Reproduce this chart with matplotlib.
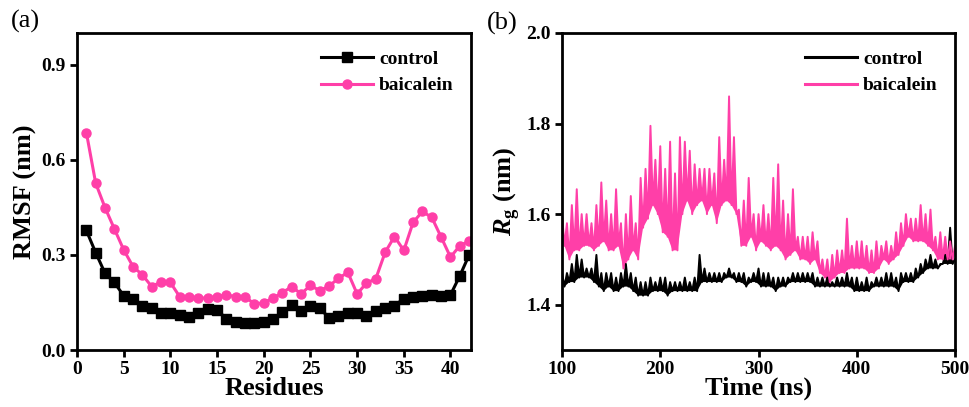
import numpy as np
import matplotlib
matplotlib.use('Agg')
import matplotlib.pyplot as plt

plt.rcParams['font.family'] = 'Liberation Serif'
plt.rcParams['font.weight'] = 'bold'
plt.rcParams['mathtext.fontset'] = 'custom'
plt.rcParams['mathtext.bfit'] = 'Liberation Serif:italic:bold'
plt.rcParams['mathtext.bf'] = 'Liberation Serif:bold'
plt.rcParams['mathtext.rm'] = 'Liberation Serif:bold'

PINK = '#FF3FA8'

# (a) RMSF per residue
residues = np.arange(1, 43)
rmsf_control = [0.377, 0.307, 0.242, 0.213, 0.171, 0.160, 0.140, 0.131, 0.116, 0.116,
                0.112, 0.103, 0.118, 0.129, 0.126, 0.099, 0.087, 0.084, 0.084, 0.089,
                0.097, 0.119, 0.142, 0.123, 0.139, 0.131, 0.102, 0.107, 0.118, 0.118,
                0.107, 0.123, 0.133, 0.140, 0.162, 0.168, 0.171, 0.173, 0.171, 0.174,
                0.234, 0.300]
rmsf_baicalein = [0.686, 0.526, 0.449, 0.382, 0.316, 0.263, 0.237, 0.200, 0.215, 0.213,
                  0.168, 0.166, 0.164, 0.164, 0.168, 0.174, 0.168, 0.168, 0.145, 0.149,
                  0.164, 0.181, 0.200, 0.177, 0.204, 0.187, 0.202, 0.226, 0.245, 0.177,
                  0.211, 0.225, 0.308, 0.358, 0.314, 0.403, 0.437, 0.418, 0.356, 0.293,
                  0.329, 0.344]

# (b) Rg over time: upper values at 100,105,...,500 ns and lower values in between
rg_ctrl_hi = [1.47, 1.47, 1.49, 1.51, 1.50, 1.48, 1.48, 1.51, 1.47, 1.47,
              1.47, 1.46, 1.47, 1.49, 1.47, 1.46, 1.45, 1.45, 1.46, 1.45,
              1.46, 1.46, 1.45, 1.45, 1.45, 1.46, 1.45, 1.46, 1.51, 1.48,
              1.47, 1.47, 1.47, 1.47, 1.48, 1.47, 1.47, 1.47, 1.46, 1.47,
              1.48, 1.47, 1.47, 1.46, 1.46, 1.46, 1.46, 1.47, 1.47, 1.47,
              1.47, 1.47, 1.46, 1.46, 1.46, 1.45, 1.46, 1.46, 1.47, 1.46,
              1.46, 1.45, 1.46, 1.45, 1.46, 1.46, 1.47, 1.47, 1.46, 1.47,
              1.47, 1.47, 1.48, 1.49, 1.50, 1.51, 1.50, 1.49, 1.51, 1.57,
              1.50]
rg_ctrl_lo = [1.44, 1.45, 1.45, 1.46, 1.46, 1.46, 1.45, 1.44, 1.43, 1.44,
              1.43, 1.43, 1.44, 1.44, 1.43, 1.42, 1.42, 1.42, 1.43, 1.43,
              1.43, 1.42, 1.43, 1.43, 1.43, 1.43, 1.43, 1.43, 1.45, 1.45,
              1.45, 1.45, 1.45, 1.46, 1.46, 1.45, 1.45, 1.44, 1.45, 1.45,
              1.44, 1.44, 1.44, 1.43, 1.44, 1.44, 1.45, 1.45, 1.45, 1.45,
              1.45, 1.44, 1.44, 1.44, 1.44, 1.44, 1.44, 1.44, 1.44, 1.43,
              1.43, 1.43, 1.43, 1.44, 1.44, 1.44, 1.44, 1.44, 1.43, 1.45,
              1.45, 1.45, 1.46, 1.47, 1.48, 1.48, 1.48, 1.49, 1.49, 1.49]
rg_baic_hi = [1.60, 1.58, 1.62, 1.655, 1.60, 1.60, 1.58, 1.62, 1.67, 1.63,
              1.60, 1.655, 1.58, 1.60, 1.64, 1.58, 1.68, 1.70, 1.795, 1.72,
              1.75, 1.70, 1.76, 1.69, 1.77, 1.76, 1.74, 1.71, 1.70, 1.70,
              1.70, 1.69, 1.77, 1.72, 1.86, 1.77, 1.61, 1.63, 1.68, 1.60,
              1.60, 1.62, 1.60, 1.68, 1.71, 1.63, 1.60, 1.655, 1.55, 1.55,
              1.55, 1.56, 1.54, 1.50, 1.50, 1.51, 1.52, 1.52, 1.59, 1.53,
              1.54, 1.54, 1.53, 1.52, 1.54, 1.53, 1.54, 1.53, 1.56, 1.58,
              1.60, 1.59, 1.59, 1.62, 1.60, 1.61, 1.55, 1.56, 1.55, 1.54,
              1.53]
rg_baic_lo = [1.53, 1.50, 1.52, 1.52, 1.53, 1.53, 1.52, 1.53, 1.54, 1.52,
              1.52, 1.53, 1.48, 1.50, 1.52, 1.50, 1.57, 1.59, 1.62, 1.60,
              1.56, 1.55, 1.52, 1.52, 1.60, 1.63, 1.60, 1.62, 1.63, 1.60,
              1.62, 1.58, 1.62, 1.63, 1.62, 1.60, 1.53, 1.53, 1.55, 1.52,
              1.54, 1.53, 1.52, 1.53, 1.52, 1.50, 1.51, 1.52, 1.50, 1.50,
              1.49, 1.50, 1.47, 1.46, 1.45, 1.46, 1.47, 1.47, 1.48, 1.48,
              1.48, 1.48, 1.47, 1.47, 1.48, 1.50, 1.49, 1.50, 1.51, 1.53,
              1.55, 1.54, 1.54, 1.54, 1.53, 1.52, 1.50, 1.50, 1.50, 1.50]


def interleave(hi, lo):
    y = np.empty(len(hi) + len(lo))
    y[0::2] = hi
    y[1::2] = lo
    return y


time = np.linspace(100, 500, len(rg_ctrl_hi) + len(rg_ctrl_lo))
t_lo = time[1::2]

fig = plt.figure(figsize=(9.69, 4.07), dpi=100)
ax1 = fig.add_axes([0.0795, 0.140, 0.4066, 0.779])
ax2 = fig.add_axes([0.580, 0.140, 0.4056, 0.779])


def style(ax):
    for sp in ax.spines.values():
        sp.set_linewidth(2)
    ax.tick_params(direction='out', width=2, length=5, labelsize=14, pad=3)
    for lab in ax.get_xticklabels() + ax.get_yticklabels():
        lab.set_fontweight('bold')


legend_kw = dict(loc='upper right', frameon=False, handlelength=2.7,
                 handletextpad=0.3, borderaxespad=0.5, labelspacing=0.45,
                 prop={'weight': 'bold', 'size': 14})

ax1.plot(residues, rmsf_control, '-s', color='black', lw=2.2, ms=6.5, label='control')
ax1.plot(residues, rmsf_baicalein, '-o', color=PINK, lw=2.2, ms=6.5, label='baicalein')
ax1.set_xlim(0, 42.2)
ax1.set_ylim(0, 1.0)
ax1.set_xticks([0, 5, 10, 15, 20, 25, 30, 35, 40])
ax1.set_yticks([0.0, 0.3, 0.6, 0.9])
ax1.set_xlabel('Residues', fontsize=19, fontweight='bold', labelpad=-1)
ax1.set_ylabel('RMSF (nm)', fontsize=19, fontweight='bold', labelpad=3)
ax1.legend(**legend_kw)
style(ax1)
ax1.text(-0.168, 1.0, '(a)', transform=ax1.transAxes, fontsize=19,
         fontweight='normal', va='bottom')

for hi, lo, c, name in [(rg_ctrl_hi, rg_ctrl_lo, 'black', 'control'),
                        (rg_baic_hi, rg_baic_lo, PINK, 'baicalein')]:
    rg = interleave(hi, lo)
    ax2.fill(np.concatenate([time, t_lo[::-1]]), np.concatenate([rg, np.array(lo)[::-1]]),
             color=c, lw=0)
    ax2.plot(time, rg, color=c, lw=1.4, label=name)
ax2.set_xlim(100, 500)
ax2.set_ylim(1.3, 2.0)
ax2.set_xticks([100, 200, 300, 400, 500])
ax2.set_yticks([1.4, 1.6, 1.8, 2.0])
ax2.set_xlabel('Time (ns)', fontsize=19, fontweight='bold', labelpad=-1)
ax2.set_ylabel(r'$\mathbfit{R}_\mathbf{g}$ (nm)', fontsize=19, fontweight='bold', labelpad=3)
leg2 = ax2.legend(**legend_kw)
for line in leg2.get_lines():
    line.set_linewidth(2.2)
style(ax2)
ax2.text(-0.19, 0.995, '(b)', transform=ax2.transAxes, fontsize=19,
         fontweight='normal', va='bottom')

fig.savefig('out.png', dpi=100)
